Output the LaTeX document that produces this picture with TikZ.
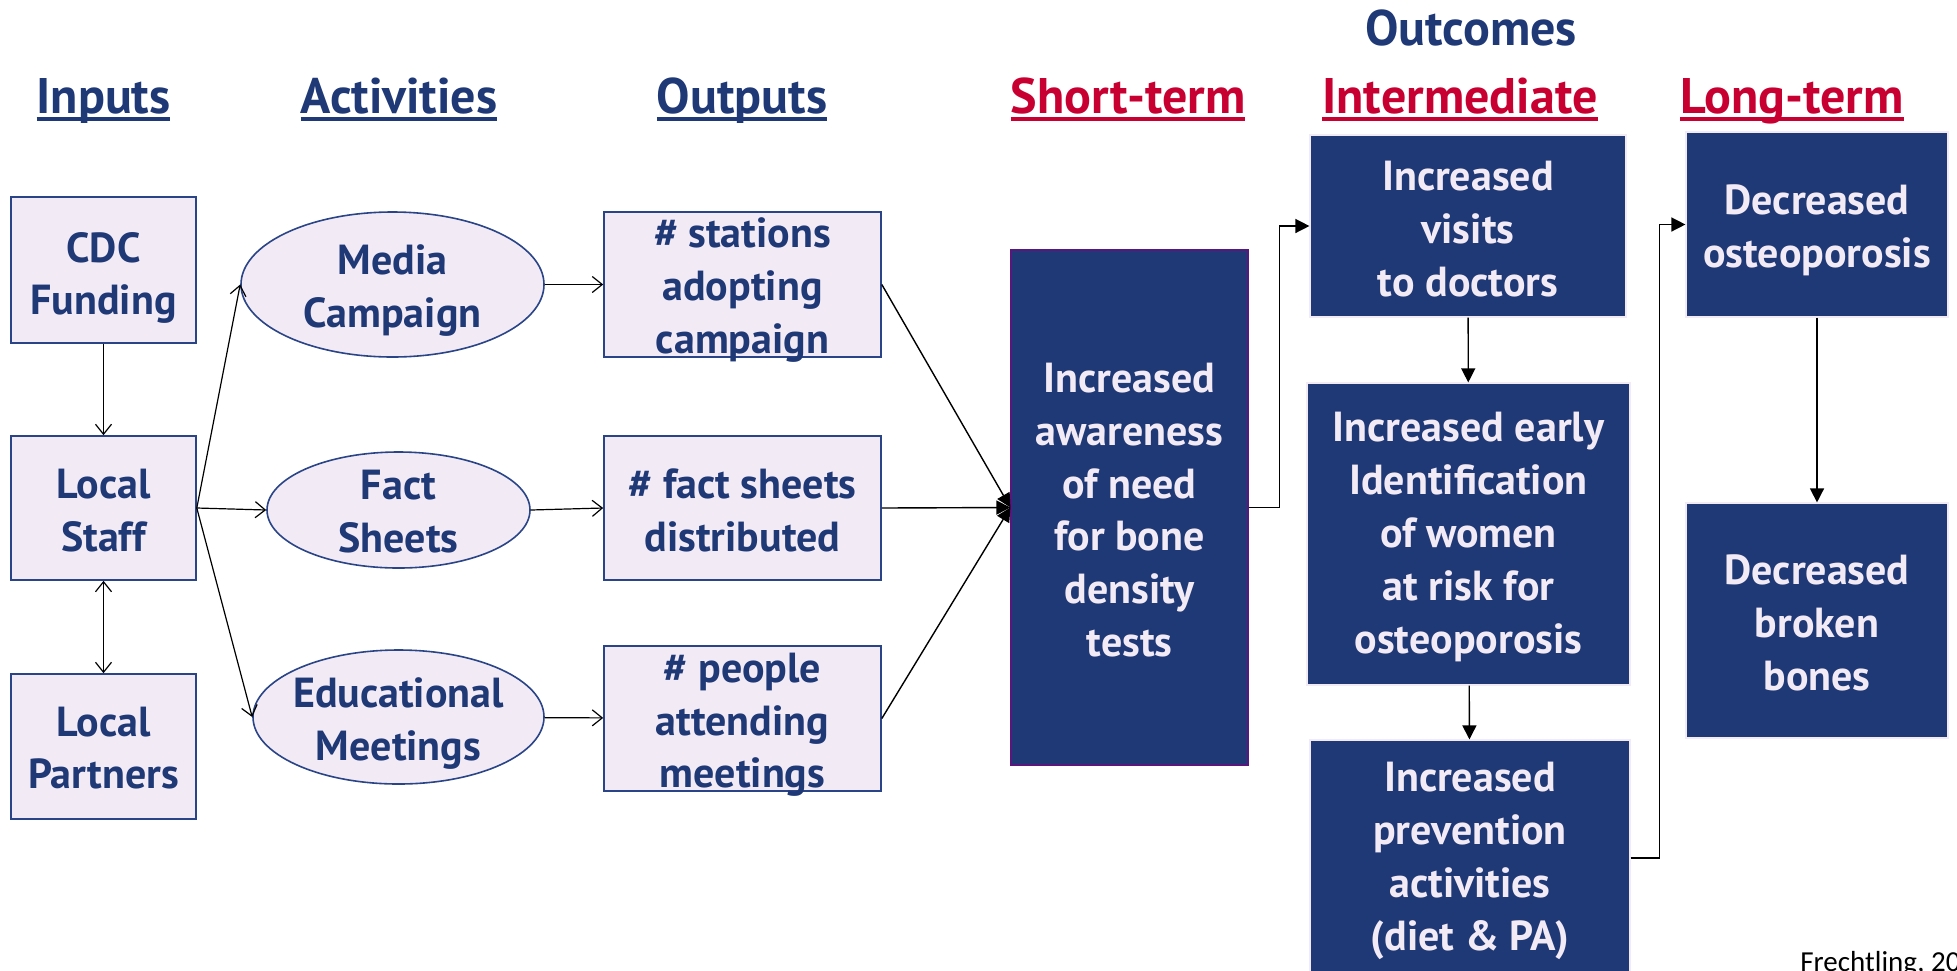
\documentclass[tikz,border=0pt]{standalone}
\usepackage{fontspec}
\setmainfont{PT Sans}
\newfontfamily\credfont{Carlito}
\usetikzlibrary{shapes.geometric,arrows.meta}
\definecolor{dnavy}{HTML}{1F3876}
\definecolor{lav}{HTML}{F2EAF4}
\definecolor{dred}{HTML}{C80032}
\definecolor{bnavy}{HTML}{2A4488}
\newcommand\myul[1]{\setbox0\hbox{#1}\rlap{\rule[-4pt]{\wd0}{1.9pt}}\box0}
\begin{document}
\begin{tikzpicture}[x=0.5pt,y=-0.5pt,
  lbox/.style={draw=bnavy,fill=lav,line width=0.8pt,inner sep=0pt},
  ell/.style={ellipse,draw=bnavy,fill=lav,line width=0.8pt,inner sep=0pt},
  dbox/.style={draw=lav,fill=dnavy,line width=0.6pt,inner sep=0pt},
  ltext/.style={text=dnavy,align=center,inner sep=0pt,font=\fontsize{21}{26.4}\selectfont\bfseries},
  dtext/.style={text=lav,align=center,inner sep=0pt,font=\fontsize{21}{26.4}\selectfont\bfseries},
  head/.style={anchor=base,inner sep=0pt,font=\fontsize{25}{30}\selectfont\bfseries},
  ob/.style={line width=0.6pt,-{Straight Barb[length=5pt,width=8pt]}},
  obb/.style={line width=0.6pt,{Straight Barb[length=5pt,width=8pt]}-{Straight Barb[length=5pt,width=8pt]}},
  fa/.style={line width=0.7pt,-{Triangle[length=7pt,width=7pt]}}]
\useasboundingbox (0,0) rectangle (1957,970);

% headings
\node[head,text=dnavy] (hin) at (103.5,113) {\myul{Inputs}};
\node[head,text=dnavy] (hact) at (399,113) {\myul{Activities}};
\node[head,text=dnavy] (hout) at (742,113) {\myul{Outputs}};
\node[head,text=dred] (hst) at (1128,113) {\myul{Short-term}};
\node[head,text=dred] (hint) at (1460,113) {\myul{Intermediate}};
\node[head,text=dred] (hlt) at (1792,113) {\myul{Long-term}};
\node[head,text=dnavy] (hoc) at (1471,45) {Outcomes};

% inputs
\node[lbox,minimum width=92.5pt,minimum height=73pt] (cdc) at (103.5,270) {};
\node[ltext,yshift=-4pt] (cdcT) at (cdc) {CDC\\Funding};
\node[lbox,minimum width=92.5pt,minimum height=72pt] (staff) at (103.5,508) {};
\node[ltext,yshift=-1.2pt] (staffT) at (staff) {Local\\Staff};
\node[lbox,minimum width=92.5pt,minimum height=72.5pt] (part) at (103.5,746.5) {};
\node[ltext,yshift=-0.8pt] (partT) at (part) {Local\\Partners};

% activities
\node[ell,minimum width=151.5pt,minimum height=72.5pt] (media) at (392.5,284.5) {};
\node[ltext,yshift=-3.2pt] (mediaT) at (media) {Media\\Campaign};
\node[ell,minimum width=131.5pt,minimum height=58pt] (fact) at (398.5,510) {};
\node[ltext,yshift=-0.6pt] (factT) at (fact) {Fact\\Sheets};
\node[ell,minimum width=145.5pt,minimum height=67pt] (edu) at (398.5,717) {};
\node[ltext,yshift=-3.2pt] (eduT) at (edu) {Educational\\Meetings};

% outputs
\node[lbox,minimum width=138.5pt,minimum height=72.5pt] (sta) at (742.5,284.5) {};
\node[ltext,yshift=-2.8pt] (staT) at (sta) {\# stations\\adopting\\campaign};
\node[lbox,minimum width=138.5pt,minimum height=72pt] (fsd) at (742.5,508) {};
\node[ltext,yshift=-1.2pt] (fsdT) at (fsd) {\# fact sheets\\distributed};
\node[lbox,minimum width=138.5pt,minimum height=72.5pt] (ppl) at (742.5,718.5) {};
\node[ltext,yshift=-3.2pt] (pplT) at (ppl) {\# people\\attending\\meetings};

% outcomes
\node[dbox,draw=violet!60!dnavy,minimum width=118.5pt,minimum height=257.5pt] (st) at (1129.5,507.5) {};
\node[dtext] (stT) at (1129.5,510) {Increased\\awareness\\of need\\for bone\\density\\tests};
\node[dbox,minimum width=158pt,minimum height=91pt] (vis) at (1468,226) {};
\node[dtext] (visT) at (1468,229) {Increased\\visits\\to doctors};
\node[dbox,minimum width=161.5pt,minimum height=151pt] (eid) at (1468.5,534) {};
\node[dtext] (eidT) at (1468.5,537) {Increased early\\Identification\\of women\\at risk for\\osteoporosis};
\node[dbox,minimum width=160pt,minimum height=118pt] (prev) at (1470,858) {};
\node[dtext] (prevT) at (1470,861) {Increased\\prevention\\activities\\(diet \& PA)};
\node[dbox,minimum width=131pt,minimum height=92.5pt] (ost) at (1817,224.5) {};
\node[dtext] (ostT) at (1817,230) {Decreased\\osteoporosis};
\node[dbox,minimum width=131pt,minimum height=117.5pt] (brk) at (1817,620.5) {};
\node[dtext] (brkT) at (1817,623) {Decreased\\broken\\bones};

% credit (cut off at the page edge, as in the original)
\node[anchor=base west,inner sep=0pt,font=\credfont\fontsize{14.5}{17}\selectfont] (cred) at (1800,971) {Frechtling, 20};

% connectors
\draw[ob] (cdc) -- (staff);
\draw[obb] (staff) -- (part);
\draw[ob] (staff.east) -- (media.west);
\draw[ob] (staff.east) -- (fact.west);
\draw[ob] (staff.east) -- (edu.west);
\draw[ob] (media) -- (sta);
\draw[ob] (fact.east) -- (fsd.west);
\draw[ob] (edu) -- (ppl);
\draw[fa] (sta.east) -- (st.west);
\draw[fa] (fsd.east) -- (st.west);
\draw[fa] (ppl.east) -- (st.west);
\draw[fa] (st.east) -- ++(31,0) |- (vis.west);
\draw[fa] (vis) -- (eid);
\draw[fa] (eid) -- (prev);
\draw[fa] (prev.east) -- ++(29,0) |- (ost.west);
\draw[fa] (ost) -- (brk);
\end{tikzpicture}
\end{document}
